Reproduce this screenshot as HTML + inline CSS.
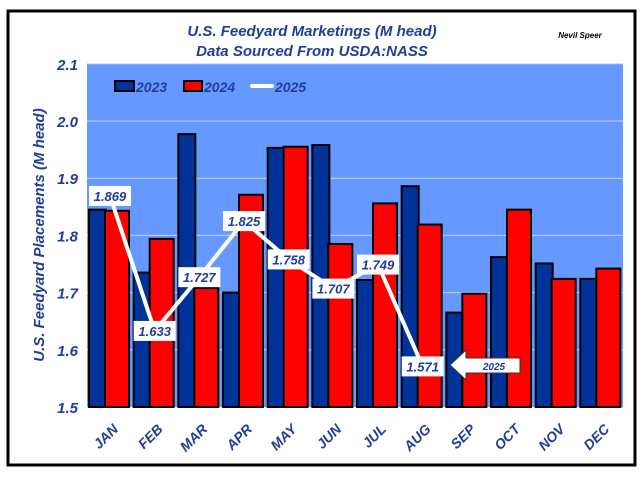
<!DOCTYPE html>
<html><head><meta charset="utf-8"><style>
html,body{margin:0;padding:0;background:#fff;width:642px;height:477px;overflow:hidden}
svg text{font-family:"Liberation Sans",Arial,sans-serif;font-weight:bold;font-style:italic}
</style></head><body>
<svg id="s" width="642" height="477" xmlns="http://www.w3.org/2000/svg">
<rect x="8" y="11" width="627" height="454" fill="#fff" stroke="#000" stroke-width="3"/>
<text x="312" y="36" text-anchor="middle" font-size="15" fill="#1f3d99">U.S. Feedyard Marketings (M head)</text>
<text x="312" y="56" text-anchor="middle" font-size="15" fill="#1f3d99">Data Sourced From USDA:NASS</text>
<text x="580" y="38" text-anchor="middle" font-size="8" fill="#000">Nevil Speer</text>
<rect x="87" y="64" width="536" height="343" fill="#6699ff"/>
<g id="g"></g>
<text transform="translate(44,235) rotate(-90)" text-anchor="middle" font-size="15" fill="#1f3d99">U.S. Feedyard Placements (M head)</text>
</svg>
<script>
var g=document.getElementById('g'),h='';
function y(v){return 407-(v-1.5)*572;}
for(var v=1.6;v<2.15;v+=0.1){h+='<line x1="87" x2="623" y1="'+y(v)+'" y2="'+y(v)+'" stroke="#c8d4f0" stroke-width="1"/>';}
['1.5','1.6','1.7','1.8','1.9','2.0','2.1'].forEach(function(t,i){h+='<text x="78" y="'+(y(1.5+i*0.1)+6)+'" text-anchor="end" font-size="15" fill="#1f3d99">'+t+'</text>';});
var a=[1.845,1.735,1.977,1.700,1.953,1.958,1.722,1.886,1.665,1.762,1.751,1.724];
var b=[1.843,1.794,1.708,1.871,1.955,1.785,1.856,1.819,1.698,1.845,1.724,1.742];
var m=['JAN','FEB','MAR','APR','MAY','JUN','JUL','AUG','SEP','OCT','NOV','DEC'];
var w=536/12;
for(var i=0;i<12;i++){var gx=87+i*w;
h+='<rect x="'+(gx+2)+'" y="'+y(a[i])+'" width="17" height="'+(407-y(a[i]))+'" fill="#003399" stroke="#000" stroke-width="2"/>';
h+='<rect x="'+(gx+18)+'" y="'+y(b[i])+'" width="24" height="'+(407-y(b[i]))+'" fill="#ff0000" stroke="#000" stroke-width="2"/>';
h+='<text transform="translate('+(gx+32)+',430) rotate(-45)" text-anchor="end" font-size="14" fill="#1f3d99">'+m[i]+'</text>';}
var c=[1.869,1.633,1.727,1.825,1.758,1.707,1.749,1.571],pts=[];
for(var i=0;i<8;i++)pts.push((87+i*w+23)+','+y(c[i]));
h+='<polyline points="'+pts.join(' ')+'" fill="none" stroke="#fff" stroke-width="4"/>';
for(var i=0;i<8;i++){var cx=87+i*w+23,cy=y(c[i]);
h+='<rect x="'+(cx-21)+'" y="'+(cy-10)+'" width="42" height="20" fill="#fff"/>';
h+='<text x="'+cx+'" y="'+(cy+5)+'" text-anchor="middle" font-size="13" fill="#1f3d99">'+c[i].toFixed(3)+'</text>';}
h+='<polygon points="450,365 466,350 466,358 520,358 520,373 466,373 466,380" fill="#fff" stroke="#333" stroke-width="1"/>';
h+='<text x="494" y="370" text-anchor="middle" font-size="10" fill="#1f3d99">2025</text>';
h+='<rect x="115" y="81" width="19" height="10" fill="#003399" stroke="#000" stroke-width="2"/><text x="136" y="92" font-size="14" fill="#1f3d99">2023</text>';
h+='<rect x="184" y="81" width="18" height="10" fill="#ff0000" stroke="#000" stroke-width="2"/><text x="204" y="92" font-size="14" fill="#1f3d99">2024</text>';
h+='<line x1="252" x2="272" y1="86" y2="86" stroke="#fff" stroke-width="4" stroke-linecap="round"/><text x="275" y="92" font-size="14" fill="#1f3d99">2025</text>';
g.innerHTML=h;
</script>
</body></html>
